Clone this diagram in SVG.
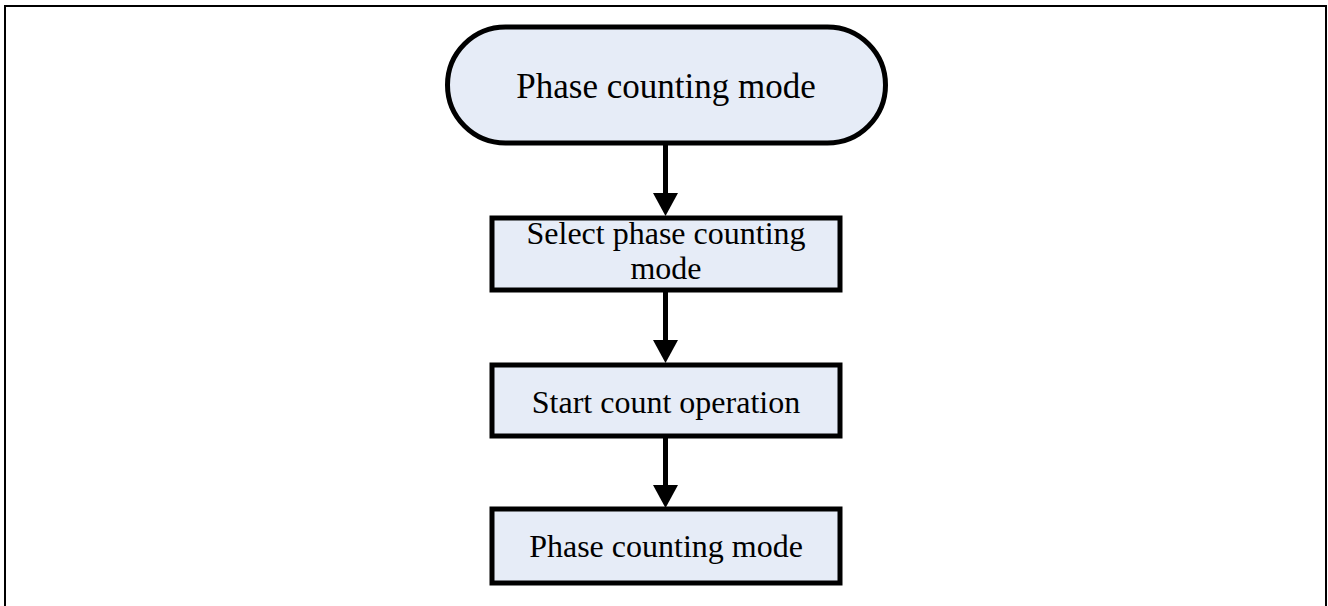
<svg xmlns="http://www.w3.org/2000/svg" width="1328" height="606" viewBox="0 0 1328 606">
<style>
.node{fill:#E6ECF7;stroke:#000;stroke-width:5}
.lbl{font-family:"Liberation Serif","Times New Roman",serif;font-size:32px;fill:#000;text-anchor:middle}
.conn{stroke:#000;stroke-width:5;fill:none}
.head{fill:#000;stroke:none}
</style>
<rect x="5" y="6" width="1321" height="610" fill="#fff" stroke="#000" stroke-width="2"/>
<g id="n1">
<rect class="node" x="447.5" y="27" width="438" height="116" rx="58" ry="58"/>
<text class="lbl" x="666" y="98" style="font-size:35px">Phase counting mode</text>
</g>
<g id="n2">
<rect class="node" x="492" y="218" width="348" height="72"/>
<text class="lbl" x="666" y="244">Select phase counting</text>
<text class="lbl" x="666" y="279">mode</text>
</g>
<g id="n3">
<rect class="node" x="492" y="365" width="348" height="71"/>
<text class="lbl" x="666" y="413">Start count operation</text>
</g>
<g id="n4">
<rect class="node" x="492" y="509" width="348" height="74"/>
<text class="lbl" x="666" y="557">Phase counting mode</text>
</g>
<g id="connectors">
<line class="conn" x1="665.5" y1="145" x2="665.5" y2="195"/>
<polygon class="head" points="653,193 678,193 665.5,216"/>
<line class="conn" x1="665.5" y1="292" x2="665.5" y2="342"/>
<polygon class="head" points="653,340 678,340 665.5,363"/>
<line class="conn" x1="665.5" y1="438" x2="665.5" y2="487"/>
<polygon class="head" points="653,485 678,485 665.5,508"/>
</g>
</svg>
